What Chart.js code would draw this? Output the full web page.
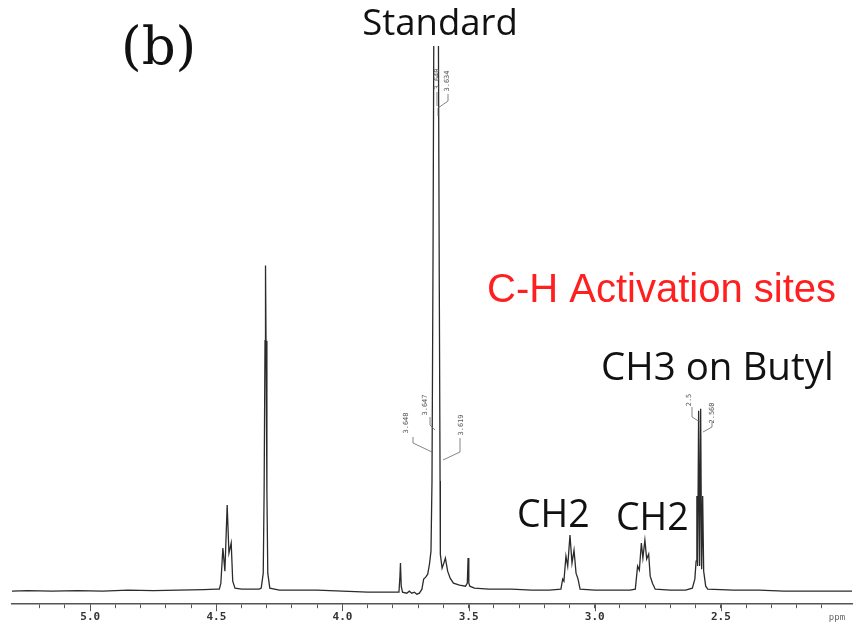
<!DOCTYPE html>
<html lang="en">
<head>
    <meta charset="UTF-8">
    <title>1H NMR (b)</title>
    <script src="https://cdn.jsdelivr.net/npm/chart.js"></script>
    <style>
        body { margin: 0; background: #fff; }
        canvas { display: block; }
    </style>
</head>
<body>
    <canvas id="nmrChart" width="855" height="623"></canvas>

    <script>
        // Spectrum trace: chemical shift (ppm) and intensity above baseline
        const specPpm = [
            5.31, 5.25, 5.15, 5.05, 4.95, 4.85, 4.75, 4.65, 4.55, 4.50,
            4.488, 4.482, 4.474, 4.466, 4.457, 4.450, 4.441, 4.435, 4.426, 4.40,
            4.36, 4.330, 4.322, 4.314, 4.3105, 4.307, 4.305, 4.303, 4.2995, 4.296,
            4.288, 4.25, 4.18, 4.10, 4.00, 3.90, 3.80, 3.776, 3.772, 3.770,
            3.767, 3.762, 3.745, 3.735, 3.725, 3.715, 3.705, 3.695, 3.685, 3.678,
            3.670, 3.662, 3.655, 3.649, 3.645, 3.641, 3.637, 3.6205, 3.616, 3.613,
            3.612, 3.605, 3.598, 3.592, 3.583, 3.573, 3.560, 3.536, 3.512, 3.505,
            3.502, 3.499, 3.495, 3.477, 3.42, 3.33, 3.25, 3.18, 3.134, 3.127,
            3.122, 3.114, 3.107, 3.098, 3.090, 3.082, 3.074, 3.066, 3.058, 3.00,
            2.92, 2.86, 2.839, 2.830, 2.823, 2.815, 2.809, 2.801, 2.794, 2.786,
            2.780, 2.771, 2.760, 2.70, 2.64, 2.613, 2.603, 2.598, 2.595, 2.592,
            2.588, 2.584, 2.580, 2.576, 2.572, 2.568, 2.560, 2.552, 2.45, 2.35,
            2.25, 2.15, 2.05, 1.98
        ];
        const specInt = [
            0, 0.5, 0, 0.5, 0, 1, 0.5, 1, 1.5, 2,
            2, 8, 43, 20, 86, 38, 48, 10, 3, 2,
            2, 2, 3, 18, 100, 250, 325, 250, 100, 18,
            3, 1, 1, 1, 0, -1, -1, -1, 15, 28,
            5, -1, -2, 0, -2, -1, -3, -2, 2, 12,
            14, 17, 27, 40, 110, 330, 620, 620, 300, 110,
            37, 23, 28, 33, 20, 13, 8, 6, 5, 8,
            33, 8, 5, 3, 2, 2, 1, 1, 2, 12,
            10, 35, 25, 56, 28, 41, 18, 12, 2, 1,
            1, 1, 2, 25, 21, 48, 33, 51, 32, 37,
            15, 8, 2, 1, 1, 3, 12, 30, 95, 25,
            180, 25, 182, 22, 95, 20, 5, 2, 1, 1,
            0, 0, 0, 0
        ];

        // x axis: minor ticks every 0.1 ppm, labels on the half ppm
        const majorTickValues = [5.0, 4.5, 4.0, 3.5, 3.0, 2.5];
        const majorTickLabels = ['5.0', '4.5', '4.0', '3.5', '3.0', '2.5'];

        // peak-pick values printed by the spectrometer
        const pickLabels = ['3.640', '3.634', '3.648', '3.647', '3.619', '2.5', '2.560'];

        const pickPos = [
            { x: 437, y: 79, lead: [[437, 92], [437, 106]] },
            { x: 447.5, y: 81, lead: [[448, 94], [448, 101], [438, 108], [438, 116]] },
            { x: 406, y: 423, lead: [[413, 437], [413, 443], [432, 452]] },
            { x: 425, y: 405, lead: [[430, 417], [430, 425], [435, 430]] },
            { x: 461, y: 425, lead: [[460, 438], [460, 452], [443, 460]] },
            { x: 689.5, y: 400, lead: [[692, 407], [692, 417], [700, 422]] },
            { x: 712.5, y: 413, lead: [[712, 422], [712, 427], [703, 432]] }
        ];

        const annotations = {
            id: 'annotations',
            beforeDraw(chart) {
                const ctx = chart.ctx;
                ctx.save();
                ctx.fillStyle = '#ffffff';
                ctx.fillRect(0, 0, chart.width, chart.height);
                ctx.restore();
            },
            afterDatasetsDraw(chart) {
                const ctx = chart.ctx;
                ctx.save();

                // label box over the top of the reference peak
                ctx.fillStyle = '#ffffff';
                ctx.fillRect(355, 0, 170, 46);

                // leader lines and rotated peak values
                ctx.strokeStyle = '#666';
                ctx.lineWidth = 0.8;
                pickPos.forEach((p, i) => {
                    ctx.beginPath();
                    p.lead.forEach(([lx, ly], k) => k ? ctx.lineTo(lx, ly) : ctx.moveTo(lx, ly));
                    ctx.stroke();

                    ctx.save();
                    ctx.translate(p.x, p.y);
                    ctx.rotate(-Math.PI / 2);
                    ctx.fillStyle = '#555';
                    ctx.font = '7px "DejaVu Sans Mono"';
                    ctx.textAlign = 'center';
                    ctx.textBaseline = 'middle';
                    ctx.fillText(pickLabels[i], 0, 0);
                    ctx.restore();
                });

                // headings
                ctx.fillStyle = '#111';
                ctx.textBaseline = 'alphabetic';
                ctx.textAlign = 'left';
                ctx.font = '53px "DejaVu Serif"';
                ctx.fillText('(b)', 121, 64);

                ctx.font = '36.5px "Open Sans"';
                ctx.textAlign = 'center';
                ctx.fillText('Standard', 440, 35);

                ctx.textAlign = 'left';
                ctx.font = '38.5px "Open Sans"';
                ctx.fillText('CH3 on Butyl', 601, 380);
                ctx.font = '37.5px "Open Sans"';
                ctx.fillText('CH2', 517, 527);
                ctx.fillText('CH2', 616, 530);

                ctx.fillStyle = '#ff1f1f';
                ctx.font = '40px "Liberation Sans"';
                ctx.fillText('C-H Activation sites', 487, 302);

                ctx.restore();
            },
            afterDraw(chart) {
                const ctx = chart.ctx;
                const xs = chart.scales.x;
                const bottom = chart.chartArea.bottom;
                ctx.save();
                ctx.strokeStyle = '#555';
                ctx.lineWidth = 1;
                majorTickValues.forEach(v => {
                    const px = Math.round(xs.getPixelForValue(v)) + 0.5;
                    ctx.beginPath();
                    ctx.moveTo(px, bottom);
                    ctx.lineTo(px, bottom + 7);
                    ctx.stroke();
                });
                ctx.fillStyle = '#666';
                ctx.font = '9px "DejaVu Sans Mono"';
                ctx.textAlign = 'center';
                ctx.textBaseline = 'middle';
                ctx.fillText('ppm', 837, 618);
                ctx.restore();
            }
        };

        new Chart(document.getElementById('nmrChart'), {
            type: 'line',
            data: {
                datasets: [{
                    data: specPpm.map((p, i) => ({ x: p, y: specInt[i] })),
                    borderColor: '#2b2b2b',
                    borderWidth: 1.3,
                    pointRadius: 0,
                    tension: 0,
                    fill: false
                }]
            },
            options: {
                responsive: false,
                animation: false,
                layout: { padding: { left: 12, right: 3, top: 40, bottom: -4 } },
                plugins: {
                    legend: { display: false },
                    tooltip: { enabled: false }
                },
                scales: {
                    x: {
                        type: 'linear',
                        reverse: true,
                        min: 1.98,
                        max: 5.31,
                        afterBuildTicks: (scale) => {
                            scale.ticks = scale.ticks.filter(t =>
                                Math.abs(t.value * 10 - Math.round(t.value * 10)) < 1e-6);
                        },
                        grid: {
                            drawOnChartArea: false,
                            drawTicks: true,
                            tickLength: 4,
                            tickColor: '#555'
                        },
                        border: { display: true, color: '#555', width: 1.5 },
                        ticks: {
                            stepSize: 0.1,
                            autoSkip: false,
                            maxRotation: 0,
                            padding: 5,
                            color: '#333',
                            font: { family: 'DejaVu Sans Mono', size: 11, weight: 'bold', lineHeight: 0.8 },
                            callback: (value) => {
                                const k = majorTickValues.findIndex(v => Math.abs(v - value) < 1e-6);
                                return k >= 0 ? majorTickLabels[k] : '';
                            }
                        }
                    },
                    y: {
                        display: false,
                        min: -13,
                        max: 550
                    }
                }
            },
            plugins: [annotations]
        });
    </script>
</body>
</html>
